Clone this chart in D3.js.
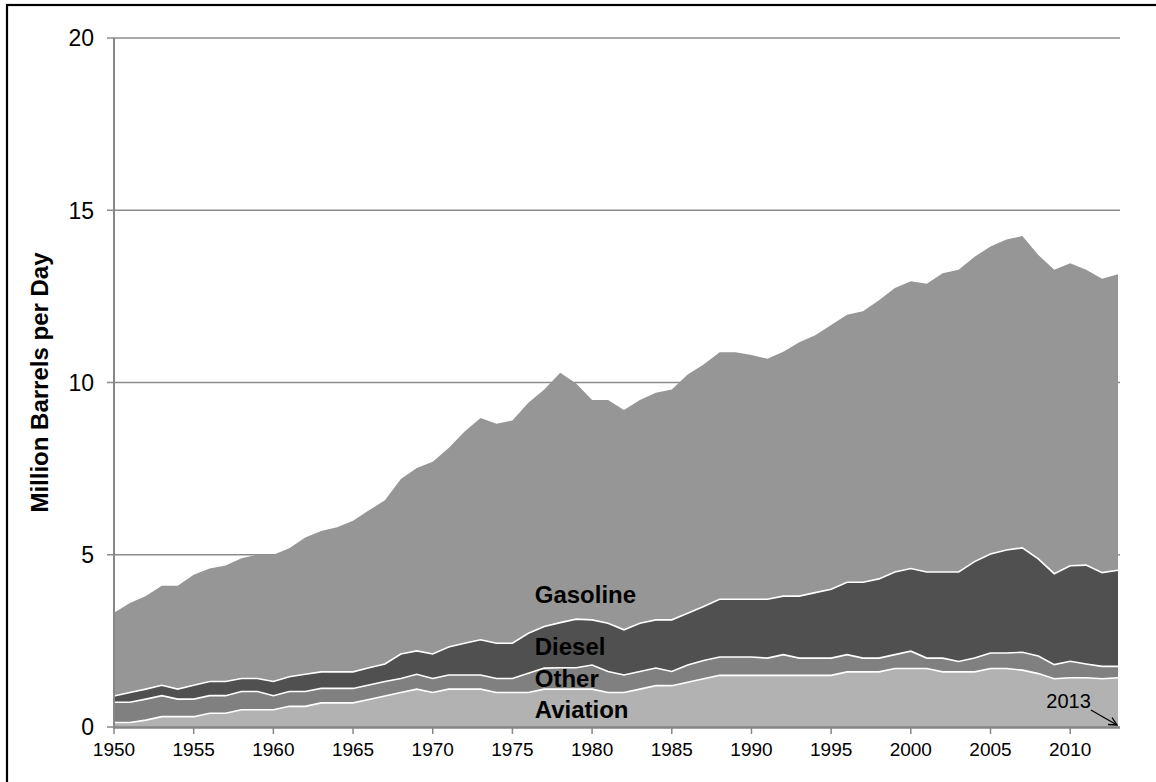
<!DOCTYPE html>
<html>
<head>
<meta charset="utf-8">
<script src="https://cdn.jsdelivr.net/npm/d3@7"></script>
<style>
  html, body { margin: 0; padding: 0; background: #fff; }
  svg { display: block; font-family: Arial, "Liberation Sans", sans-serif; }
</style>
</head>
<body>
<svg id="chart" width="1156" height="782"></svg>
<script>
// ---- Data (million barrels per day) ----
const years = d3.range(1950, 2014);
const aviation = [0.13,0.13,0.2,0.3,0.3,0.3,0.4,0.4,0.5,0.5,0.5,0.6,0.6,0.7,0.7,0.7,0.8,0.9,1.0,1.1,
  1.0,1.1,1.1,1.1,1.0,1.0,1.0,1.1,1.1,1.1,1.1,1.0,1.0,1.1,1.2,1.2,1.3,1.4,1.5,1.5,
  1.5,1.5,1.5,1.5,1.5,1.5,1.6,1.6,1.6,1.7,1.7,1.7,1.6,1.6,1.6,1.7,1.7,1.65,1.55,1.4,
  1.43,1.43,1.4,1.43];
const other = [0.59,0.59,0.61,0.61,0.51,0.51,0.51,0.51,0.53,0.53,0.41,0.43,0.43,0.42,0.42,0.42,0.42,0.42,0.41,0.43,
  0.41,0.41,0.41,0.41,0.41,0.41,0.56,0.61,0.62,0.62,0.7,0.61,0.51,0.51,0.51,0.41,0.5,0.53,0.53,0.53,
  0.53,0.5,0.6,0.5,0.5,0.5,0.5,0.4,0.4,0.4,0.5,0.3,0.4,0.3,0.4,0.45,0.45,0.52,0.51,0.41,
  0.48,0.4,0.36,0.33];
const diesel = [0.18,0.28,0.29,0.3,0.29,0.4,0.41,0.41,0.38,0.38,0.41,0.43,0.5,0.48,0.48,0.48,0.5,0.51,0.71,0.68,
  0.71,0.81,0.92,1.02,1.02,1.02,1.16,1.21,1.31,1.41,1.31,1.4,1.31,1.4,1.4,1.5,1.5,1.57,1.68,1.68,
  1.68,1.71,1.7,1.8,1.9,2.0,2.1,2.2,2.3,2.4,2.4,2.5,2.5,2.6,2.8,2.87,2.99,3.03,2.82,2.64,
  2.77,2.87,2.72,2.79];
const gasoline = [2.42,2.6,2.7,2.89,3.0,3.21,3.28,3.37,3.49,3.59,3.68,3.73,3.97,4.09,4.2,4.39,4.57,4.75,5.08,5.31,
  5.58,5.78,6.15,6.44,6.37,6.47,6.69,6.88,7.25,6.84,6.38,6.48,6.38,6.48,6.59,6.69,6.93,7.02,7.17,7.17,
  7.09,6.98,7.09,7.37,7.47,7.67,7.77,7.87,8.09,8.24,8.34,8.37,8.67,8.77,8.85,8.93,9.01,9.05,8.82,8.82,
  8.78,8.57,8.53,8.59];

const seriesKeys = ["Aviation", "Other", "Diesel", "Gasoline"];
const seriesColors = ["#b2b2b2", "#808080", "#505050", "#969696"];
const yTicks = [0, 5, 10, 15, 20];
const xTicks = [1950, 1955, 1960, 1965, 1970, 1975, 1980, 1985, 1990, 1995, 2000, 2005, 2010];
// label anchor positions (year, value) for in-chart series names
const labelYears = [1976.4, 1976.4, 1976.4, 1976.4];
const labelValues = [0.26, 1.16, 2.09, 3.6];

// ---- Build table ----
const table = years.map((y, i) => ({
  year: y, Aviation: aviation[i], Other: other[i], Diesel: diesel[i], Gasoline: gasoline[i]
}));

const svg = d3.select("#chart");

const x = d3.scaleLinear().domain([1950, 2013]).range([114, 1118]);
const y = d3.scaleLinear().domain([0, 20]).range([727, 38]);

// outer frame (left & top visible)
svg.append("rect").attr("x", 7).attr("y", 5).attr("width", 1200).attr("height", 820)
  .attr("fill", "none").attr("stroke", "#000").attr("stroke-width", 2.2);

// gridlines
svg.append("g").selectAll("line").data(yTicks.filter(d => d > 0)).join("line")
  .attr("x1", 107).attr("x2", 1120)
  .attr("y1", d => y(d)).attr("y2", d => y(d))
  .attr("stroke", "#8c8c8c").attr("stroke-width", 1.5);

// stacked areas
const stack = d3.stack().keys(seriesKeys);
const layers = stack(table);

const area = d3.area()
  .x(d => x(d.data.year))
  .y0(d => y(d[0]))
  .y1(d => y(d[1]))
  .curve(d3.curveLinear);
const topLine = d3.line()
  .x(d => x(d.data.year))
  .y(d => y(d[1]))
  .curve(d3.curveLinear);

svg.append("g").selectAll("path").data(layers).join("path")
  .attr("d", area)
  .attr("fill", (d, i) => seriesColors[i]);

svg.append("g").selectAll("path").data(layers.slice(0, 3)).join("path")
  .attr("d", topLine)
  .attr("fill", "none")
  .attr("stroke", "#fff")
  .attr("stroke-width", 1.6);

// y axis
const yAxis = svg.append("g");
yAxis.append("line").attr("x1", 114).attr("x2", 114).attr("y1", 38).attr("y2", 728)
  .attr("stroke", "#868686").attr("stroke-width", 2);
yAxis.selectAll("line.tick").data([0]).join("line").attr("class", "tick")
  .attr("x1", 107).attr("x2", 114).attr("y1", y(0)).attr("y2", y(0))
  .attr("stroke", "#868686").attr("stroke-width", 1.5);
yAxis.selectAll("text").data(yTicks).join("text")
  .attr("x", 94).attr("y", d => y(d) + 8.3)
  .attr("text-anchor", "end")
  .attr("font-size", 23)
  .attr("fill", "#000")
  .text(d => d);

// x axis
const xAxis = svg.append("g");
xAxis.append("line").attr("x1", 113).attr("x2", 1120).attr("y1", 727.5).attr("y2", 727.5)
  .attr("stroke", "#868686").attr("stroke-width", 2.4);
xAxis.selectAll("line.tick").data(xTicks).join("line").attr("class", "tick")
  .attr("x1", d => x(d)).attr("x2", d => x(d))
  .attr("y1", 727).attr("y2", 734)
  .attr("stroke", "#868686").attr("stroke-width", 1.5);
xAxis.selectAll("text").data(xTicks).join("text")
  .attr("x", d => x(d)).attr("y", 756)
  .attr("text-anchor", "middle")
  .attr("font-size", 19)
  .attr("fill", "#000")
  .text(d => d);

// y title
svg.append("text")
  .attr("transform", "translate(48," + ((y(0) + y(20)) / 2) + ") rotate(-90)")
  .attr("text-anchor", "middle")
  .attr("font-size", 24)
  .attr("font-weight", "bold")
  .attr("fill", "#000")
  .text("Million Barrels per Day");

// series labels
svg.append("g").selectAll("text").data(seriesKeys).join("text")
  .attr("x", (d, i) => x(labelYears[i]))
  .attr("y", (d, i) => y(labelValues[i]))
  .attr("font-size", 24)
  .attr("font-weight", "bold")
  .attr("fill", "#000")
  .text(d => d);

// 2013 annotation with arrow
svg.append("defs").append("marker")
  .attr("id", "arr").attr("viewBox", "0 0 10 10").attr("refX", 9).attr("refY", 5)
  .attr("markerWidth", 10).attr("markerHeight", 10).attr("orient", "auto")
  .attr("markerUnits", "userSpaceOnUse")
  .append("path").attr("d", "M1,1 L9,5 L1,9").attr("fill", "none")
  .attr("stroke", "#000").attr("stroke-width", 1.3);
svg.append("text")
  .attr("x", x(2009.9)).attr("y", 708)
  .attr("text-anchor", "middle")
  .attr("font-size", 20)
  .attr("fill", "#000")
  .text("2013");
svg.append("line")
  .attr("x1", x(2011.3)).attr("y1", 710)
  .attr("x2", x(2013) - 1).attr("y2", 725)
  .attr("stroke", "#000").attr("stroke-width", 1.2)
  .attr("marker-end", "url(#arr)");
</script>
</body>
</html>
